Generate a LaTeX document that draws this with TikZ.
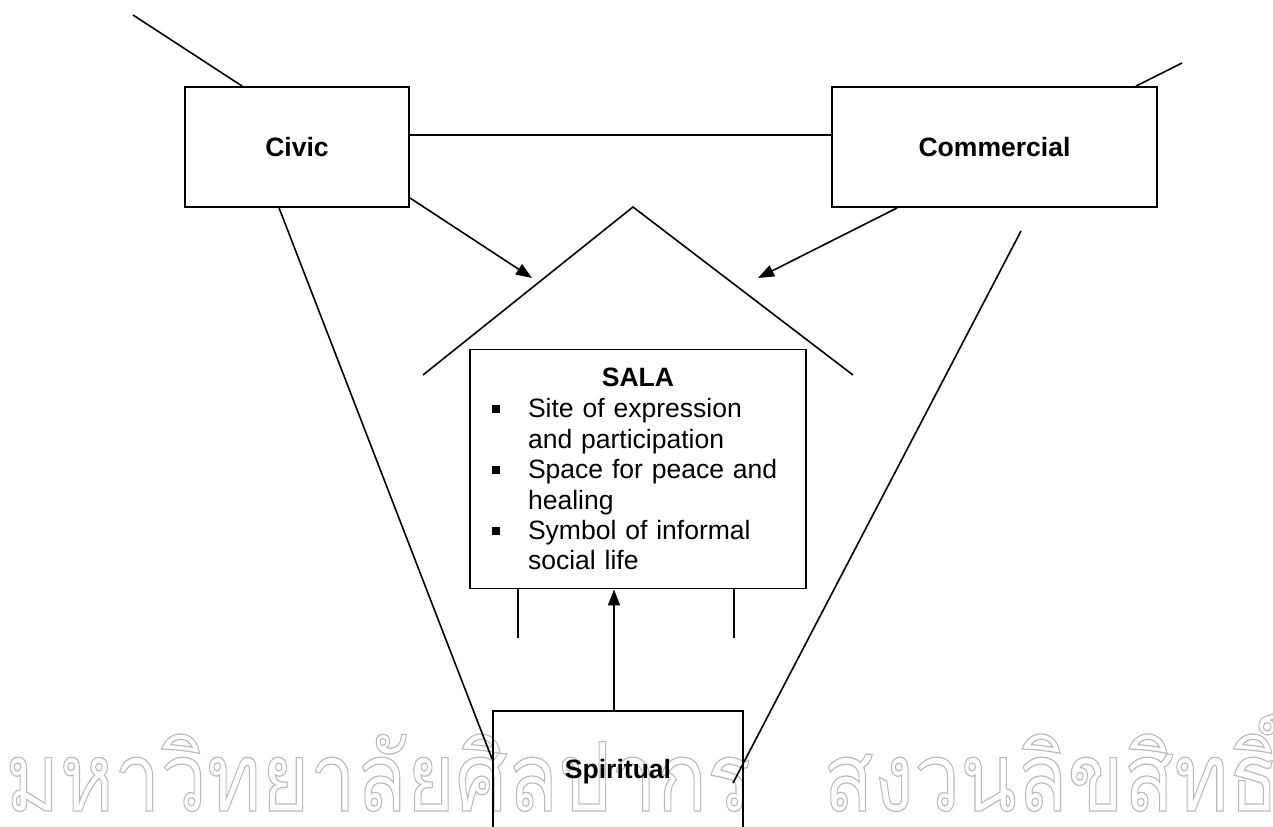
\documentclass[tikz,border=0pt]{standalone}
\usepackage{fontspec}
\setmainfont{Liberation Sans}
\newfontfamily\thaifont[Script=Thai]{Loma}
\usetikzlibrary{arrows.meta}

\newcommand{\outlinetext}[1]{\special{pdf:code q 1 Tr 0.9 w}#1\special{pdf:code Q}}
\newcommand{\salabullet}{\makebox[27pt][l]{\rule[3.5pt]{6pt}{6pt}}}

\begin{document}
\begin{tikzpicture}[
    x=0.75pt, y=-0.75pt,
    box/.style={draw, line width=1.4pt, inner sep=0pt, font=\fontsize{19.9pt}{22.8pt}\selectfont\bfseries},
    salabox/.style={box, font=\fontsize{19.9pt}{22.8pt}\selectfont, text width=219pt, align=left,
      minimum width=252pt, minimum height=179.25pt},
    link/.style={line width=1.2pt},
    arr/.style={link, -{Triangle[length=12pt, width=9pt]}},
    wmark/.style={text=black!27, anchor=base west, inner sep=0pt, font=\thaifont\fontsize{72pt}{80pt}\selectfont},
  ]
  \path[use as bounding box, clip] (0,0) rectangle (1273,826);

  % --- Watermark ---
  \node[wmark] (wmleft) at (5,811) {\scalebox{0.86}[1]{\outlinetext{มหาวิทยาลัยศิลปากร}}};
  \node[wmark] (wmright) at (823,811) {\scalebox{0.86}[1]{\outlinetext{สงวนลิขสิทธิ์}}};

  % --- Boxes ---
  \node[box, minimum width=168pt, minimum height=90pt] (civic) at (297,147) {Civic};
  \node[box, minimum width=243.75pt, minimum height=90pt] (commercial) at (994.5,147) {Commercial};
  \node[box, minimum width=187.5pt, minimum height=91.5pt] (spiritual) at (618,772) {Spiritual};
  \node[salabox] (sala) at (638,469) {\makebox[219pt][c]{\bfseries SALA}\\[0.8pt]
    \salabullet Site of expression\\
    \hspace*{27pt}and participation\\
    \salabullet Space for peace and\\
    \hspace*{27pt}healing\\
    \salabullet Symbol of informal\\
    \hspace*{27pt}social life};

  % --- Roof ---
  \coordinate (roofl) at (423,375);
  \coordinate (apex) at (633,207);
  \coordinate (roofr) at (853,375);
  \draw[link] (roofl) -- (apex) -- (roofr);

  % --- Free ends ---
  \coordinate (civicend) at (133,15);
  \coordinate (commend) at (1182,63);
  \coordinate (civictip) at (532,278);
  \coordinate (commtip) at (758,278);
  \coordinate (rtop) at (1021,231);
  \coordinate (rbot) at (733,783);

  % --- Connectors ---
  \draw[link] (civicend) -- ([xshift=43.5pt]civic.north west);
  \draw[link] ([xshift=-16.5pt]commercial.north east) -- (commend);
  \draw[link] ([yshift=9pt]civic.east) -- ([yshift=9pt]commercial.west);
  \draw[arr] ([yshift=7.5pt]civic.south east) -- (civictip);
  \draw[arr] ([xshift=49.5pt]commercial.south west) -- (commtip);
  \draw[link] ([xshift=71.25pt]civic.south west) -- ([yshift=9.75pt]spiritual.west);
  \draw[link] (rtop) -- (rbot);

  % --- Legs and support ---
  \draw[link] ([xshift=-90pt]sala.south) -- ++(0,49);
  \draw[link] ([xshift=72pt]sala.south) -- ++(0,49);
  \draw[arr] ([xshift=-3pt]spiritual.north) -- ([xshift=-18pt]sala.south);

\end{tikzpicture}
\end{document}
